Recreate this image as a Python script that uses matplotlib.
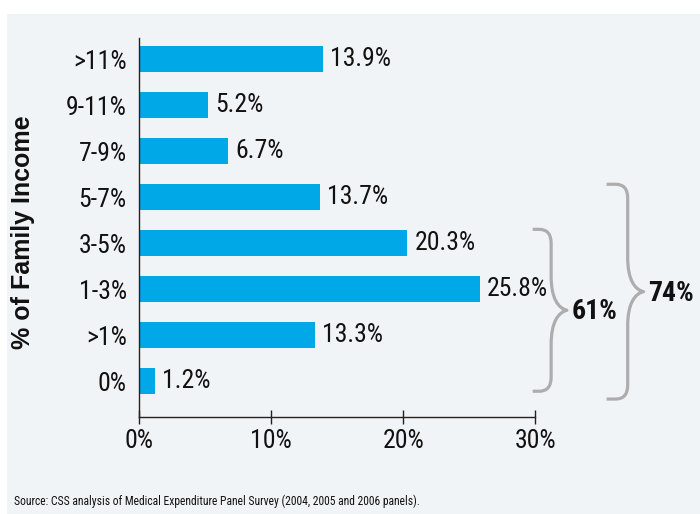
import matplotlib.pyplot as plt
from matplotlib.path import Path
from matplotlib.patches import PathPatch, Rectangle

# share of people by out-of-pocket spending as % of family income
categories = ['>11%', '9-11%', '7-9%', '5-7%', '3-5%', '1-3%', '>1%', '0%']
shares = [13.9, 5.2, 6.7, 13.7, 20.3, 25.8, 13.3, 1.2]
xticks = [0, 10, 20, 30]
xtick_labels = ['0%', '10%', '20%', '30%']
# brackets: (first category, last category, label)
groups = [('3-5%', '0%', '61%'), ('5-7%', '0%', '74%')]
source = 'Source: CSS analysis of Medical Expenditure Panel Survey (2004, 2005 and 2006 panels).'

narrow = ['Roboto Condensed', 'DejaVu Sans']
bar_color = '#00a8e8'
bg = '#f1f4f6'
brace_color = '#adadad'
ink = '#111111'
fs = 18.5

fig = plt.figure(figsize=(7, 5.14), dpi=100)
fig.patch.set_facecolor('white')
fig.add_artist(Rectangle((7 / 700, 0), 1, 1 - 14 / 514, transform=fig.transFigure,
                         facecolor=bg, edgecolor='none', zorder=-10))

ax = fig.add_axes([139.3 / 700, 1 - 417 / 514, (535.3 - 139.3) / 700, (417 - 38) / 514])
ax.set_facecolor('none')

n = len(categories)
ypos = [n - 1 - i for i in range(n)]
ax.barh(ypos, shares, height=0.57, color=bar_color, zorder=2)

for y, v in zip(ypos, shares):
    ax.text(v + 0.55, y, f'{v}%', va='center', ha='left', fontsize=fs,
            family=narrow, color=ink)

ax.set_xlim(0, 30)
ax.set_ylim(-0.78, n - 1 + 0.46)
ax.set_yticks(ypos)
ax.set_yticklabels(categories, family=narrow, fontsize=fs, color=ink)
ax.set_xticks(xticks)
ax.set_xticklabels(xtick_labels, family=narrow, fontsize=fs, color=ink)
ax.tick_params(axis='y', length=0, pad=9)
ax.tick_params(axis='x', direction='inout', length=10, width=1, color='#222222', pad=4)
for s in ['top', 'right']:
    ax.spines[s].set_visible(False)
for s in ['left', 'bottom']:
    ax.spines[s].set_color('#222222')
    ax.spines[s].set_linewidth(1)

ax.set_ylabel('% of Family Income', fontsize=18, fontweight='bold',
              family=['Liberation Sans', 'DejaVu Sans'], color=ink)
ax.yaxis.set_label_coords(-0.263, 0.488)

# curly braces drawn in data units, converted from pixel sizes
px_x = 13.2   # pixels per percent
px_y = 46.0   # pixels per category


def brace(x0, x1, xtip, ytop, ybot):
    ymid = (ytop + ybot) / 2
    rx, ry = 12 / px_x, 14 / px_y
    sy = 34 / px_y
    dx = xtip - x1
    verts = [
        (x0, ytop), (x1 - rx, ytop),
        (x1, ytop), (x1, ytop - ry),
        (x1, ymid + sy),
        (x1, ymid + sy * 0.35), (x1 + dx * 0.45, ymid + 2 / px_y), (xtip, ymid),
        (x1 + dx * 0.45, ymid - 2 / px_y), (x1, ymid - sy * 0.35), (x1, ymid - sy),
        (x1, ybot + ry),
        (x1, ybot), (x1 - rx, ybot),
        (x0, ybot),
    ]
    codes = [Path.MOVETO, Path.LINETO,
             Path.CURVE3, Path.CURVE3,
             Path.LINETO,
             Path.CURVE4, Path.CURVE4, Path.CURVE4,
             Path.CURVE4, Path.CURVE4, Path.CURVE4,
             Path.LINETO,
             Path.CURVE3, Path.CURVE3,
             Path.LINETO]
    ax.add_patch(PathPatch(Path(verts, codes), facecolor='none', edgecolor=brace_color,
                           lw=2.3, capstyle='butt', joinstyle='round', clip_on=False))
    return ymid


brace_x = [(29.8, 31.2, 32.4), (35.4, 37.0, 38.2)]
brace_pad = [(0.30, 0.22), (0.28, 0.39)]
for (first, last, label), (x0, x1, xt), (pt, pb) in zip(groups, brace_x, brace_pad):
    ytop = ypos[categories.index(first)] + pt
    ybot = ypos[categories.index(last)] - pb
    ymid = brace(x0, x1, xt, ytop, ybot)
    ax.text(xt + 0.35, ymid - 0.03, label, ha='left', va='center', fontsize=20,
            fontweight='bold', family=narrow, color=ink, clip_on=False)

fig.text(14 / 700, 1 - 501 / 514, source, fontsize=8.35, family=narrow,
         va='center', ha='left', color=ink)

fig.savefig('out.png', dpi=100, facecolor=fig.get_facecolor())
